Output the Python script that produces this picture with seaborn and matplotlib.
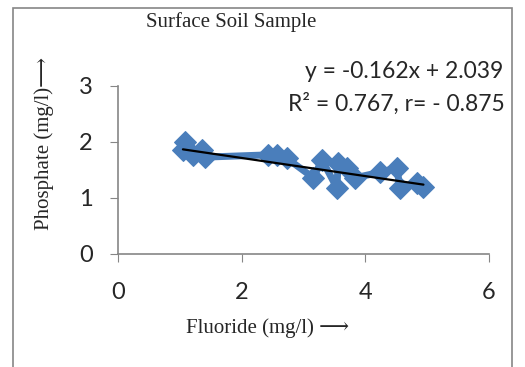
import matplotlib
matplotlib.use('Agg')
import numpy as np
import pandas as pd
import matplotlib.pyplot as plt
import seaborn as sns
from matplotlib.patches import Rectangle

# fluoride vs phosphate, surface soil
fluoride = [1.05, 1.08, 1.21, 1.36, 1.41, 2.43, 2.57, 2.73, 3.16, 3.30, 3.54,
            3.56, 3.70, 3.83, 4.24, 4.51, 4.56, 4.84, 4.94]
phosphate = [1.86, 2.00, 1.77, 1.86, 1.73, 1.77, 1.77, 1.71, 1.36, 1.68, 1.18,
             1.62, 1.54, 1.36, 1.46, 1.54, 1.18, 1.27, 1.20]
slope, intercept = -0.162, 2.039
eq_lines = ['y = -0.162x + 2.039', 'R\u00b2 = 0.767, r= - 0.875']
x_ticks = [0, 2, 4, 6]
y_ticks = [0, 1, 2, 3]

df = pd.DataFrame({'Fluoride': fluoride, 'Phosphate': phosphate})

sns.set_style('white')
plt.rcParams['font.family'] = ['Lato', 'DejaVu Sans']

fig = plt.figure(figsize=(5.25, 3.67), dpi=100)
ax = fig.add_axes([118/525, 113/367, 371/525, 168/367])

blue = '#4a7ebb'
sns.lineplot(data=df, x='Fluoride', y='Phosphate', ax=ax, estimator=None,
             color=blue, lw=5, marker='D', markersize=11, markeredgecolor=blue)

# linear trendline
xs = np.array([min(fluoride), max(fluoride)])
ax.plot(xs, slope * xs + intercept, color='black', lw=1.6)

ax.set_xlim(0, 6)
ax.set_ylim(0, 3)
ax.set_xticks(x_ticks)
ax.set_yticks(y_ticks)
ax.tick_params(axis='both', labelsize=17, length=6, color='#868686',
               direction='out', bottom=True, left=True)
ax.tick_params(axis='x', pad=14)
ax.tick_params(axis='y', pad=12)
for s in ['top', 'right']:
    ax.spines[s].set_visible(False)
for s in ['left', 'bottom']:
    ax.spines[s].set_color('#868686')
    ax.spines[s].set_linewidth(1.2)
ax.set_xlabel('')
ax.set_ylabel('')

serif = ['Liberation Serif', 'DejaVu Serif']
fig.text(231/525, 1 - 22/367, 'Surface Soil Sample', family=serif, fontsize=15,
         ha='center', va='center')
fig.text(268/525, 1 - 328/367, 'Fluoride (mg/l) \u27f6', family=serif + ['DejaVu Sans'],
         fontsize=15, ha='center', va='center')
fig.text(44/525, 1 - 143/367, 'Phosphate (mg/l)\u27f6', family=serif + ['DejaVu Sans'],
         fontsize=15, ha='center', va='center', rotation=90)

fig.text(503/525, 1 - 72/367, eq_lines[0], fontsize=16.5, ha='right', va='center')
fig.text(505/525, 1 - 104/367, eq_lines[1], fontsize=16.5, ha='right', va='center')

# chart area border (open at the bottom like the cropped original)
fig.patches.append(Rectangle((13/525, -0.05), 499/525, 1.05 - 8/367,
                             transform=fig.transFigure, fill=False,
                             edgecolor='#868686', lw=1.2))

fig.savefig('out.png', dpi=100)
